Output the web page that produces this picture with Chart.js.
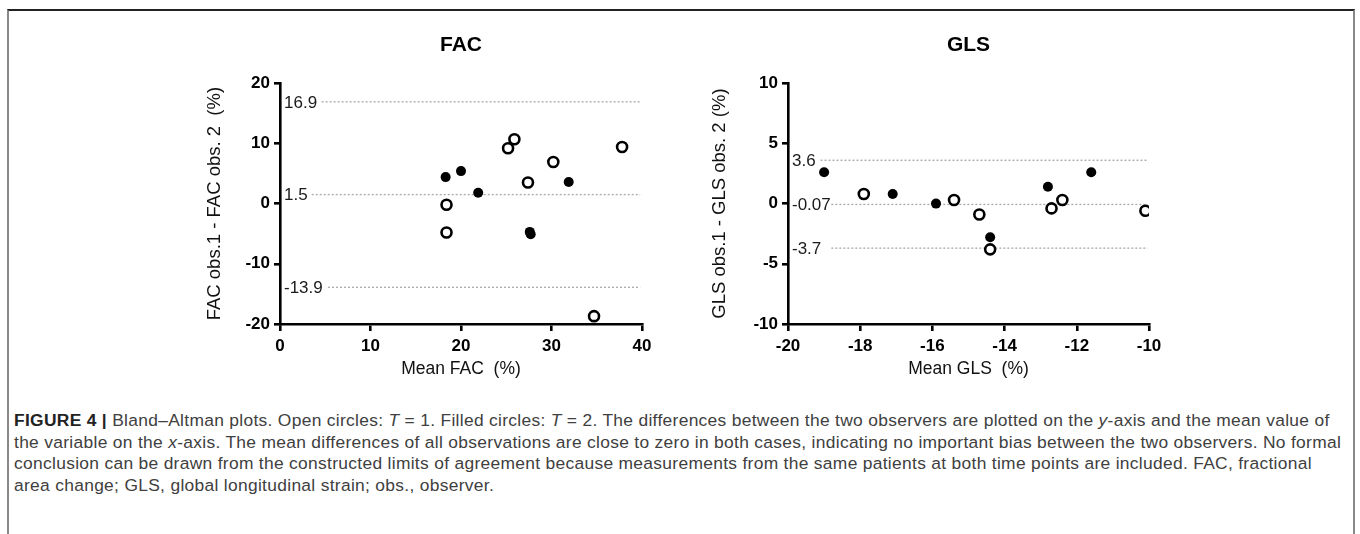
<!DOCTYPE html>
<html>
<head>
<meta charset="utf-8">
<script src="https://cdn.jsdelivr.net/npm/chart.js@4.4.0/dist/chart.umd.min.js"></script>
<style>
  html, body { margin: 0; padding: 0; background: #fff; }
  body { width: 1360px; height: 534px; position: relative; overflow: hidden; font-family: "Liberation Sans", Arial, sans-serif; }
  #frame { position: absolute; left: 7px; top: 9px; width: 1344px; height: 540px; border-top: 2px solid #222; border-left: 2px solid #888; border-right: 2px solid #888; }
  .box { position: absolute; top: 0; height: 400px; }
  #facBox { left: 190px; width: 470px; }
  #glsBox { left: 690px; width: 480px; }
  #caption { position: absolute; left: 14px; top: 410px; width: 1336px; font-size: 17.4px; letter-spacing: 0.31px; line-height: 21.5px; color: #404040; white-space: nowrap; }
  #caption b { color: #222; }
</style>
</head>
<body>
<div id="frame"></div>
<div class="box" id="facBox"><canvas id="facChart"></canvas></div>
<div class="box" id="glsBox"><canvas id="glsChart"></canvas></div>
<div id="caption">
<b>FIGURE 4 |</b> Bland–Altman plots. Open circles: <i>T</i> = 1. Filled circles: <i>T</i> = 2. The differences between the two observers are plotted on the <i>y</i>-axis and the mean value of<br>
the variable on the <i>x</i>-axis. The mean differences of all observations are close to zero in both cases, indicating no important bias between the two observers. No formal<br>
conclusion can be drawn from the constructed limits of agreement because measurements from the same patients at both time points are included. FAC, fractional<br>
area change; GLS, global longitudinal strain; obs., observer.
</div>
<script>
// FAC panel data (open = T1, filled = T2)
var facOpenX = [18.4, 18.4, 25.2, 25.9, 27.4, 30.2, 34.7, 37.8];
var facOpenY = [-0.2, -4.8, 9.2, 10.7, 3.5, 6.9, -18.7, 9.4];
var facFilledX = [18.3, 20.0, 21.9, 27.6, 27.7, 31.9];
var facFilledY = [4.4, 5.4, 1.8, -4.7, -5.1, 3.6];
var facLimits = [16.9, 1.5, -13.9];
var facLimitLabels = ['16.9', '1.5', '-13.9'];
var facLimitFrom = [4.6, 3.5, 5.3];

// GLS panel data
var glsOpenX = [-17.9, -15.4, -14.7, -14.4, -12.7, -12.4, -10.1];
var glsOpenY = [0.8, 0.3, -0.9, -3.8, -0.4, 0.3, -0.6];
var glsFilledX = [-19.0, -17.1, -15.9, -14.4, -12.8, -11.6];
var glsFilledY = [2.6, 0.8, 0.0, -2.8, 1.4, 2.6];
var glsLimits = [3.6, -0.07, -3.7];
var glsLimitLabels = ['3.6', '-0.07', '-3.7'];
var glsLimitFrom = [-19.1, -18.8, -18.8];

function toPoints(xs, ys) {
  var pts = [];
  for (var i = 0; i < xs.length; i++) pts.push({x: xs[i], y: ys[i]});
  return pts;
}

// labels for limit lines, drawn just right of the y axis
var limitLabelPlugin = {
  id: 'limitLabels',
  afterDatasetsDraw: function(chart, args, opts) {
    var ctx = chart.ctx;
    var yScale = chart.scales.y;
    ctx.save();
    ctx.font = '17px "Liberation Sans", Arial, sans-serif';
    ctx.fillStyle = '#1a1a1a';
    ctx.textBaseline = 'middle';
    ctx.textAlign = 'left';
    for (var i = 0; i < opts.values.length; i++) {
      ctx.fillText(opts.labels[i], chart.chartArea.left + 4, yScale.getPixelForValue(opts.values[i]) + 1);
    }
    ctx.restore();
  }
};

function makeChart(id, cfg) {
  var datasets = [];
  for (var i = 0; i < cfg.limits.length; i++) {
    datasets.push({
      type: 'line',
      data: [{x: cfg.limitFrom[i], y: cfg.limits[i]}, {x: cfg.xMax - cfg.xStep / 50, y: cfg.limits[i]}],
      borderColor: '#a8a8a8',
      borderWidth: 1.3,
      borderDash: [2, 2],
      pointRadius: 0,
      order: 3
    });
  }
  datasets.push({
    label: 'T = 2',
    data: toPoints(cfg.filledX, cfg.filledY),
    backgroundColor: '#000',
    borderColor: '#000',
    borderWidth: 0,
    pointRadius: 5,
    order: 1
  });
  datasets.push({
    label: 'T = 1',
    data: toPoints(cfg.openX, cfg.openY),
    backgroundColor: '#fff',
    borderColor: '#000',
    borderWidth: 2.6,
    pointRadius: 5,
    order: 2
  });

  var tickFont = {family: '"Liberation Sans", Arial, sans-serif', size: 17, weight: 'bold'};

  return new Chart(document.getElementById(id), {
    type: 'scatter',
    data: {datasets: datasets},
    plugins: [limitLabelPlugin],
    options: {
      responsive: true,
      maintainAspectRatio: false,
      animation: false,
      layout: {padding: {left: cfg.padLeft, right: cfg.padRight, top: 0, bottom: 20}},
      plugins: {
        legend: {display: false},
        tooltip: {enabled: false},
        title: {
          display: true,
          text: cfg.title,
          fullSize: false,
          color: '#000',
          font: {family: '"Liberation Sans", Arial, sans-serif', size: 21, weight: 'bold'},
          padding: {top: 33, bottom: 25}
        },
        limitLabels: {values: cfg.limits, labels: cfg.limitLabels}
      },
      scales: {
        x: {
          type: 'linear',
          min: cfg.xMin, max: cfg.xMax,
          afterFit: function(s) { s.height = 56; },
          ticks: {stepSize: cfg.xStep, color: '#000', font: tickFont, padding: 5},
          grid: {drawOnChartArea: false, drawTicks: true, tickLength: 7, color: '#000', lineWidth: 2.6},
          border: {display: true, color: '#000', width: 2.6},
          title: {display: true, text: cfg.xTitle, color: '#111', font: {family: '"Liberation Sans", Arial, sans-serif', size: 17.5}, padding: {top: 4, bottom: 0}}
        },
        y: {
          type: 'linear',
          min: cfg.yMin, max: cfg.yMax,
          afterFit: function(s) { s.width = cfg.yWidth; },
          ticks: {stepSize: cfg.yStep, color: '#000', font: tickFont, padding: 4},
          grid: {drawOnChartArea: false, drawTicks: true, tickLength: 6, color: '#000', lineWidth: 2.6},
          border: {display: true, color: '#000', width: 2.6},
          title: {display: true, text: cfg.yTitle, color: '#111', font: {family: '"Liberation Sans", Arial, sans-serif', size: 18.5}, padding: {top: 3, bottom: 0}}
        }
      }
    }
  });
}

makeChart('facChart', {
  title: 'FAC', xTitle: 'Mean FAC  (%)', yTitle: 'FAC obs.1 - FAC obs. 2  (%)',
  xMin: 0, xMax: 40, xStep: 10, yMin: -20, yMax: 20, yStep: 10,
  openX: facOpenX, openY: facOpenY, filledX: facFilledX, filledY: facFilledY,
  limits: facLimits, limitLabels: facLimitLabels, limitFrom: facLimitFrom,
  padLeft: 11, padRight: 18, yWidth: 79
});

makeChart('glsChart', {
  title: 'GLS', xTitle: 'Mean GLS  (%)', yTitle: 'GLS obs.1 - GLS obs. 2 (%)',
  xMin: -20, xMax: -10, xStep: 2, yMin: -10, yMax: 10, yStep: 5,
  openX: glsOpenX, openY: glsOpenY, filledX: glsFilledX, filledY: glsFilledY,
  limits: glsLimits, limitLabels: glsLimitLabels, limitFrom: glsLimitFrom,
  padLeft: 16, padRight: 21, yWidth: 82
});
</script>
</body>
</html>
